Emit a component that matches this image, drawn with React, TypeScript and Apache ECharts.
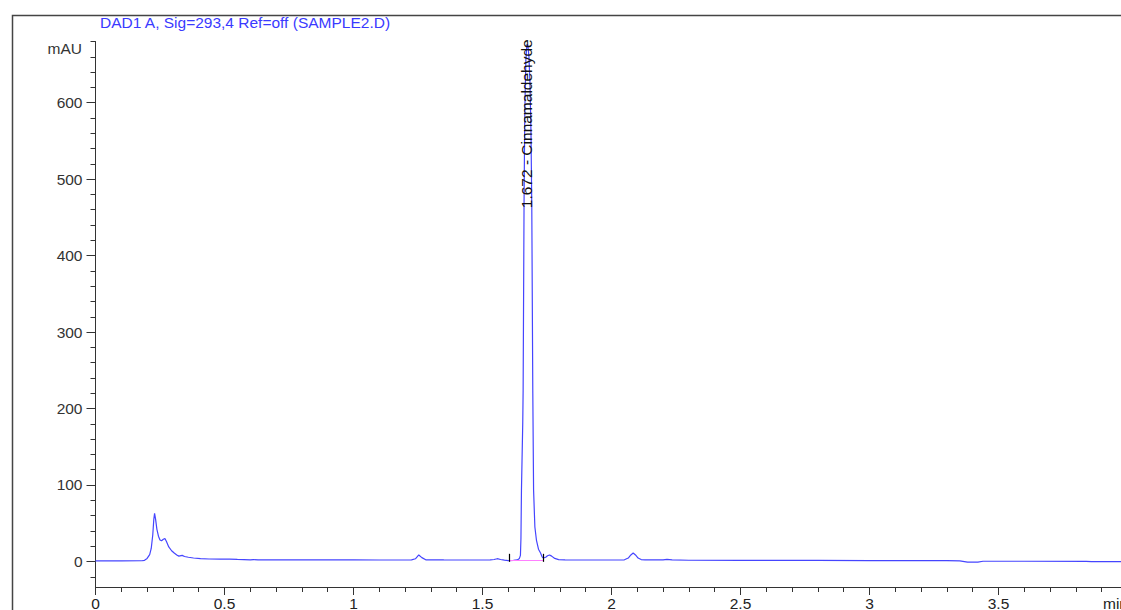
import React, { useEffect, useRef } from "react";
import * as echarts from "echarts";

const chartTitle = "DAD1 A, Sig=293,4 Ref=off (SAMPLE2.D)";
const yUnit = "mAU";
const xUnit = "min";
const peakLabel = "1.672 - Cinnamaldehyde";
const peakTime = 1.672;
const peakLabelBase = 462;
const integrationStart = 1.602;
const integrationEnd = 1.737;

const retentionTime = [
  0.0, 0.1, 0.18, 0.19, 0.2, 0.21, 0.216, 0.222, 0.226, 0.229, 0.233, 0.238, 0.244, 0.25,
  0.256, 0.263, 0.269, 0.275, 0.284, 0.295, 0.305, 0.315, 0.323, 0.336, 0.345, 0.36, 0.38,
  0.407, 0.44, 0.484, 0.52, 0.55, 0.6, 0.612, 0.63, 0.7, 0.8, 0.9, 1.0, 1.1, 1.2, 1.225,
  1.24, 1.253, 1.265, 1.28, 1.35, 1.45, 1.53, 1.545, 1.557, 1.57, 1.585, 1.6, 1.62, 1.635,
  1.643, 1.647, 1.649, 1.651, 1.656, 1.6575, 1.661, 1.664, 1.668, 1.672, 1.676, 1.68, 1.684,
  1.688, 1.691, 1.695, 1.698, 1.703, 1.709, 1.717, 1.725, 1.731, 1.736, 1.745, 1.752, 1.76,
  1.768, 1.78, 1.795, 1.82, 1.9, 2.0, 2.05, 2.065, 2.075, 2.084, 2.093, 2.103, 2.115, 2.13,
  2.2, 2.215, 2.235, 2.3, 2.5, 2.8, 3.0, 3.3, 3.35, 3.38, 3.42, 3.44, 3.6, 3.84, 3.86, 4.0,
];

const absorbance = [
  0.8, 0.8, 0.9, 1.5, 4, 9, 17, 35, 55, 63, 55, 42, 33, 28,
  27, 29, 30, 26, 19, 14, 11, 8.5, 7, 8, 6.5, 5.5, 4.5,
  3.6, 3.2, 3, 3, 2.6, 2.2, 2.5, 2, 2, 2, 2, 2, 1.9, 1.9, 2,
  3.5, 8.5, 5, 2.2, 2, 1.9, 2, 2.6, 3.6, 2.6, 1.8, 1.2, 1.3, 2,
  4, 8, 30, 93, 181, 224, 466, 590, 655, 676, 675, 660, 625,
  560, 466, 220, 93, 45, 28, 16, 11, 6, 4.5, 5.5, 7.5, 8.5,
  7, 4, 2.4, 2, 1.9, 1.9, 2.2, 4.5, 8.5, 11, 8.5, 4.5, 2.5, 2,
  2, 2.8, 2, 1.6, 1.5, 1.3, 1.2, 1.2, 0.8, -0.8, -0.8, 0.3, 0.3, 0.2, -0.3, -0.3,
];

const yMajorTicks = [0, 100, 200, 300, 400, 500, 600];
const yMinorTicks = [
  -20, 20, 40, 60, 80, 120, 140, 160, 180, 220, 240, 260, 280, 320, 340, 360, 380,
  420, 440, 460, 480, 520, 540, 560, 580, 620, 640, 660, 680,
];

const FONT = "'Liberation Sans', Arial, sans-serif";
const FS = 15.5;

export default function App() {
  const ref = useRef<HTMLDivElement>(null);

  useEffect(() => {
    if (!ref.current) return;
    const chart = echarts.init(ref.current, null, { renderer: "svg" });
    const data = retentionTime.map((t, i) => [t, absorbance[i]]);
    const yMin = -33.4;
    const yMax = 680;

    chart.setOption({
      animation: false,
      backgroundColor: "#ffffff",
      grid: { left: 95.5, top: 41.5, width: 1032, height: 545.5, containLabel: false },
      xAxis: {
        type: "value",
        min: 0,
        max: 4,
        interval: 0.5,
        axisLine: { show: true, onZero: false, lineStyle: { color: "#333", width: 1 } },
        axisTick: { show: true, length: 8, lineStyle: { color: "#333" } },
        minorTick: { show: true, splitNumber: 5, length: 5, lineStyle: { color: "#333" } },
        splitLine: { show: false },
        minorSplitLine: { show: false },
        axisLabel: {
          color: "#222",
          fontSize: FS,
          fontFamily: FONT,
          margin: 8,
          showMaxLabel: false,
        },
      },
      yAxis: [
        {
          type: "value",
          min: yMin,
          max: yMax,
          position: "left",
          axisLine: { show: true, lineStyle: { color: "#333", width: 1 } },
          axisTick: { show: true, length: 9, customValues: yMajorTicks, lineStyle: { color: "#333" } },
          axisLabel: {
            customValues: yMajorTicks,
            color: "#333",
            fontSize: FS,
            fontFamily: FONT,
            margin: 13,
          },
          splitLine: { show: false },
        },
        {
          type: "value",
          min: yMin,
          max: yMax,
          position: "left",
          axisLine: { show: false },
          axisTick: { show: true, length: 5, customValues: yMinorTicks, lineStyle: { color: "#333" } },
          axisLabel: { show: false },
          splitLine: { show: false },
        },
      ],
      series: [
        {
          type: "line",
          yAxisIndex: 0,
          data,
          showSymbol: false,
          symbol: "none",
          lineStyle: { color: "#4545ff", width: 1.2 },
          z: 3,
          markLine: {
            silent: true,
            symbol: "none",
            label: { show: false },
            animation: false,
            data: [
              [
                { coord: [integrationStart, 1], lineStyle: { color: "#ff80ff", width: 1.2, type: "solid" } },
                { coord: [integrationEnd, 1.5] },
              ],
              [
                { coord: [integrationStart, -0.5], lineStyle: { color: "#000", width: 1.2, type: "solid" } },
                { coord: [integrationStart, 10] },
              ],
              [
                { coord: [integrationEnd, -0.5], lineStyle: { color: "#000", width: 1.2, type: "solid" } },
                { coord: [integrationEnd, 10] },
              ],
            ],
          },
          markPoint: {
            silent: true,
            symbol: "circle",
            symbolSize: 0,
            animation: false,
            data: [
              {
                coord: [peakTime, peakLabelBase],
                label: {
                  show: true,
                  formatter: peakLabel,
                  position: "inside",
                  rotate: 90,
                  align: "left",
                  verticalAlign: "middle",
                  color: "#111",
                  fontSize: FS,
                  fontFamily: FONT,
                },
              },
            ],
          },
        },
      ],
      graphic: [
        {
          type: "rect",
          left: 10,
          top: 13,
          shape: { x: 0, y: 0, width: 1300, height: 800 },
          style: { fill: "none", stroke: "#444", lineWidth: 1.5 },
          silent: true,
          z: 0,
        },
        {
          type: "text",
          x: 100,
          y: 22,
          style: {
            text: chartTitle,
            fill: "#3a3aff",
            fontSize: FS,
            fontFamily: FONT,
            textVerticalAlign: "middle",
            verticalAlign: "middle",
          },
        },
        {
          type: "text",
          x: 82,
          y: 48.5,
          style: {
            text: yUnit,
            fill: "#333",
            fontSize: FS,
            fontFamily: FONT,
            align: "right",
            textAlign: "right",
            verticalAlign: "middle",
            textVerticalAlign: "middle",
          },
        },
        {
          type: "text",
          x: 1103,
          y: 603,
          style: {
            text: xUnit,
            fill: "#222",
            fontSize: FS,
            fontFamily: FONT,
            verticalAlign: "middle",
            textVerticalAlign: "middle",
          },
        },
      ],
    });

    return () => chart.dispose();
  }, []);

  return (
    <div
      style={{
        position: "fixed",
        left: 0,
        top: 0,
        width: 1121,
        height: 610,
        overflow: "hidden",
        background: "#fff",
      }}
    >
      <div ref={ref} style={{ width: 1160, height: 640 }} />
    </div>
  );
}
